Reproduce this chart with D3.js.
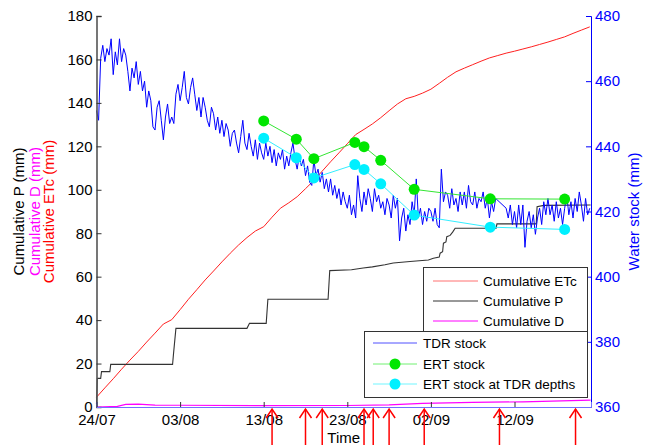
<!DOCTYPE html>
<html>
<head>
<meta charset="utf-8">
<script src="https://cdn.jsdelivr.net/npm/d3@7"></script>
<style>
  body { margin: 0; background: #fff; }
  text { font-family: Arial, "Liberation Sans", sans-serif; }
</style>
</head>
<body>
<div id="chart-container"></div>
<script>
const width = 649;
const height = 445;
const margin = { top: 16, left: 96.5, right: 58, bottom: 38 };

// x axis: days since 24/07
const tickDays = [0, 10, 20, 30, 40, 50];
const tickLabels = ["24/07", "03/08", "13/08", "23/08", "02/09", "12/09"];
const lastDay = 59.15;

// cumulative ETc (left axis, mm), one value a day
const etcDays = d3.range(0, 60);
const etcValues = [4.5, 8.8, 13.0, 17.4, 21.6, 25.6, 29.9, 34.0, 38.2, 40.2,
  44.8, 49.6, 54.0, 58.5, 62.6, 66.8, 70.8, 74.6, 78.0, 81.0,
  83.0, 87.4, 91.5, 94.0, 96.8, 100.5, 104.3, 108.6, 112.9, 117.0,
  121.2, 125.4, 127.8, 130.3, 133.2, 136.4, 139.5, 141.9, 143.0, 144.5,
  146.3, 149.0, 151.8, 154.3, 156.0, 157.6, 159.2, 160.7, 161.8, 162.9,
  163.8, 164.8, 165.8, 166.9, 168.0, 169.2, 170.4, 172.0, 173.5, 175.0];

// cumulative P (left axis, mm)
const pDays = [0, 0.1, 0.5, 0.6, 1.6, 1.7, 9.1, 9.2, 9.5, 18.0, 18.3, 20.3, 20.5, 27.7, 27.9,
  30.5, 31.9, 33.0, 34.5, 35.5, 37.5, 39.7, 40.3, 41.0, 41.1, 41.4, 41.5, 41.8, 41.9,
  42.3, 42.6, 42.9, 47.8, 47.9, 52.6, 52.7, 53.5, 59.1];
const pValues = [1.4, 13.2, 13.2, 16.3, 16.3, 19.6, 19.6, 24, 36.2, 36.2, 38.5, 38.5, 49.6, 49.6, 62.8,
  63.2, 64.0, 64.5, 65.5, 66.3, 67.0, 67.7, 68.5, 69.0, 70.8, 71.5, 75.4, 76.0, 78.4,
  79.0, 80.5, 82.3, 82.3, 84.3, 84.3, 92.2, 92.8, 93.0];

// cumulative D (left axis, mm)
const dDays = [0, 2.5, 3.5, 5, 7, 10, 20, 30, 35, 39, 45, 51, 59.1];
const dValues = [0, 0.3, 1.2, 1.3, 0.9, 0.8, 0.6, 0.7, 1.0, 1.7, 2.1, 2.4, 3.2];

// TDR water stock (right axis, mm), four readings a day, null = no data
const tdrValues = [
  451, 448, 467, 471, 466, 470, 468, 473, 462, 469, 465, 473, 466, 470, 468, 463,
  457, 464, 461, 466, 459, 463, 457, 460, 452, 457, 454, 446, 445, 452, 454, 448,
  442, 449, 453, 447, 449, 447, 456, 459, 454, 458, 463, 455, 453, 458, 461, 456,
  451, 455, 449, 455, 452, 448, 446, 452, 450, 445, 449, 444, 448, 443, 447, 445,
  440, 444, 445, 441, 438, 443, 448, 441, 439, 444, 440, 437, 442, 436, 441, 438,
  436, 441, 437, 440, 435, 439, 434, 438, 436, 439, 433, 437, 434, 438, 441, 436,
  433, 437, 434, 436, 431, 434, 429, 428, 436, 431, 433, 429, 432, 427, 430, 426,
  430, 425, 428, 424, 427, 422, 426, 423, 421, 425, 419, 422, 418, 431, 424, 420,
  426, 422, 427, 424, 420, 427, 423, 425, 421, 423, 419, 424, 422, 418, 425, 421,
  424, 411, 418, 421, 414, 419, 416, 423, 419, 430, 418, 421, 416, 420, 417, 421,
  420, 417, 421, 416, 415, 433, 423, 426, 425, 421, 427, 422, 424, 420, 426, 422,
  426, 421, 428, 423, 422, 426, 421, 424, 423, 426, 421, 424, 418, 423, 420, 424,
  null, null, null, null, 421, 418, 422, 416, 420, 415, 422, 416, 422, 409, 417, 420,
  415, 419, 413, 418, 421, 416, 423, 419, 424, 419, 422, 417, 423, 418, 421, 416,
  421, 425, 419, 423, 418, 424, 420, 426, 422, 417, 424, 419, 421];

// ERT stock (right axis, mm)
const ertDays = [20.0, 23.9, 26.0, 30.9, 32.0, 34.0, 38.0, 47.1, 56.0];
const ertValues = [447.8, 442.2, 436.2, 441.2, 439.9, 435.7, 426.8, 423.9, 423.8];
const ertTdrValues = [442.5, 436.5, 430.3, 434.4, 432.9, 428.5, 418.9, 415.2, 414.5];

// dates marked by red arrows under the axis
const arrowDays = [21.0, 25.0, 27.0, 32.0, 33.1, 35.0, 39.2, 48.2, 57.3];

const svg = d3.select("#chart-container").append("svg")
  .attr("width", width)
  .attr("height", height);

//Defines the scales
const x = d3.scaleLinear()
  .domain([0, lastDay])
  .range([margin.left, width - margin.right]);

const yLeft = d3.scaleLinear()
  .domain([0, 180])
  .range([height - margin.bottom, margin.top]);

const yRight = d3.scaleLinear()
  .domain([360, 480])
  .range([height - margin.bottom, margin.top]);

const x0 = x.range()[0], x1 = x.range()[1];
const yb = yLeft(0);

// left axis lines
let gLeft = svg.append("g");
let lineLeft = (days, values) => d3.line()
  .x((d, i) => x(days[i]))
  .y(d => yLeft(d))(values);

gLeft.append("path").attr("d", lineLeft(etcDays, etcValues))
  .attr("fill", "none").attr("stroke", "#ff2020").attr("stroke-width", 1);
gLeft.append("path").attr("d", lineLeft(pDays, pValues))
  .attr("fill", "none").attr("stroke", "#333").attr("stroke-width", 1.1);
gLeft.append("path").attr("d", lineLeft(dDays, dValues))
  .attr("fill", "none").attr("stroke", "#ff00ff").attr("stroke-width", 1.2);

// right axis lines
let gRight = svg.append("g");
const tdr = tdrValues.map((v, i) => ({ day: i * 0.25, v: v })).filter(d => d.v !== null);

gRight.append("path")
  .attr("d", d3.line().x(d => x(d.day)).y(d => yRight(d.v))(tdr))
  .attr("fill", "none").attr("stroke", "#0000ff").attr("stroke-width", 1);

let drawErt = (values, color, lineColor) => {
  gRight.append("path")
    .attr("d", d3.line().x((d, i) => x(ertDays[i])).y(d => yRight(d))(values))
    .attr("fill", "none").attr("stroke", lineColor).attr("stroke-width", 1);
  gRight.selectAll(null)
    .data(values)
    .enter().append("circle")
    .attr("cx", (d, i) => x(ertDays[i]))
    .attr("cy", d => yRight(d))
    .attr("r", 5.5)
    .attr("fill", color);
};
drawErt(ertValues, "#00e600", "#33e633");
drawErt(ertTdrValues, "#00f0ff", "#33eeff");

// Draw Axes
const fontSize = "15px";

svg.append("g")
  .attr("transform", `translate(${x0},0)`)
  .call(d3.axisLeft(yLeft).tickValues(d3.range(0, 181, 20)).tickSize(-5).tickPadding(4))
  .call(g => g.select(".domain").attr("stroke", "#555").attr("stroke-width", 1.6))
  .call(g => g.selectAll(".tick line").attr("stroke", "#333"))
  .call(g => g.selectAll("text").attr("fill", "#000").style("font-size", fontSize)
    .style("font-family", "Arial, 'Liberation Sans', sans-serif"));

svg.append("g")
  .attr("transform", `translate(${x1},0)`)
  .call(d3.axisRight(yRight).tickValues(d3.range(360, 481, 20)).tickSize(-5).tickPadding(4))
  .call(g => g.select(".domain").attr("stroke", "#0000ff"))
  .call(g => g.selectAll(".tick line").attr("stroke", "#0000ff"))
  .call(g => g.selectAll("text").attr("fill", "#0000ff").style("font-size", fontSize)
    .style("font-family", "Arial, 'Liberation Sans', sans-serif"));

svg.append("g")
  .attr("transform", `translate(0,${yb})`)
  .call(d3.axisBottom(x).tickValues(tickDays).tickFormat((d, i) => tickLabels[i])
    .tickSize(-5).tickPadding(7))
  .call(g => g.select(".domain").attr("stroke", "#7070ff"))
  .call(g => g.selectAll(".tick line").attr("stroke", "#333"))
  .call(g => g.selectAll("text").attr("fill", "#000").style("font-size", fontSize)
    .style("font-family", "Arial, 'Liberation Sans', sans-serif"));

// axis titles
const midY = (yLeft(0) + yLeft(180)) / 2;
const leftTitles = [
  { text: "Cumulative P (mm)", color: "#000", x: 24 },
  { text: "Cumulative D (mm)", color: "#ff00ff", x: 40 },
  { text: "Cumulative ETc (mm)", color: "#ff0000", x: 54 }
];
svg.selectAll(".ytitle")
  .data(leftTitles)
  .enter().append("text")
  .attr("class", "ytitle")
  .attr("transform", d => `translate(${d.x},${midY}) rotate(-90)`)
  .attr("text-anchor", "middle")
  .attr("fill", d => d.color)
  .style("font-size", fontSize)
  .text(d => d.text);

svg.append("text")
  .attr("transform", `translate(639,${midY}) rotate(-90)`)
  .attr("text-anchor", "middle")
  .attr("fill", "#0000ff")
  .style("font-size", fontSize)
  .text("Water stock (mm)");

svg.append("text")
  .attr("x", (x0 + x1) / 2)
  .attr("y", 443)
  .attr("text-anchor", "middle")
  .style("font-size", fontSize)
  .text("Time");

// red arrows
let gArrow = svg.append("g")
  .attr("stroke", "#ff0000").attr("stroke-width", 1.5).attr("fill", "none");
arrowDays.forEach(d => {
  const ax = x(d);
  gArrow.append("path").attr("d", `M${ax},445V409`);
  gArrow.append("path").attr("d", `M${ax - 6},418L${ax},409L${ax + 6},418`);
});

// legends
let drawLegend = (items, box, lineX, textX, rowY) => {
  let gl = svg.append("g");
  gl.append("rect")
    .attr("x", box.x).attr("y", box.y).attr("width", box.w).attr("height", box.h)
    .attr("fill", "#fff").attr("stroke", "#333").attr("stroke-width", 1);
  items.forEach((it, i) => {
    const ly = rowY[i];
    gl.append("line")
      .attr("x1", lineX[0]).attr("x2", lineX[1]).attr("y1", ly).attr("y2", ly)
      .attr("stroke", it.color).attr("stroke-width", 1);
    if (it.marker) {
      gl.append("circle")
        .attr("cx", (lineX[0] + lineX[1]) / 2).attr("cy", ly).attr("r", 5.5)
        .attr("fill", it.marker);
    }
    gl.append("text")
      .attr("x", textX).attr("y", ly).attr("dy", "0.35em")
      .style("font-size", "13.5px")
      .text(it.label);
  });
};

drawLegend([
  { label: "Cumulative ETc", color: "#ff7070" },
  { label: "Cumulative P", color: "#333" },
  { label: "Cumulative D", color: "#ff00ff" }
], { x: 423.5, y: 267.5, w: 164, h: 66 }, [433, 478], 483, [281, 301, 321]);

drawLegend([
  { label: "TDR stock", color: "#5050ff" },
  { label: "ERT stock", color: "#70f070", marker: "#00e600" },
  { label: "ERT stock at TDR depths", color: "#70f5ff", marker: "#00f0ff" }
], { x: 364.5, y: 331.5, w: 223, h: 66 }, [373, 417], 423, [343, 364, 384]);
</script>
</body>
</html>
